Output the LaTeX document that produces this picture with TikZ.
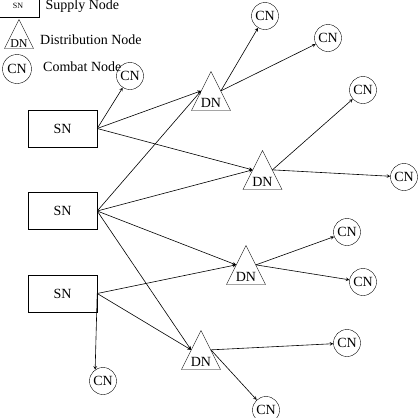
\documentclass[tikz,border=0pt]{standalone}
\usepackage{fontspec}
\setmainfont{Liberation Serif}
\usetikzlibrary{shapes.geometric}

\begin{document}
\begin{tikzpicture}[x=1pt, y=-1pt, node distance=82.5pt, font=\fontsize{14}{16}\selectfont]
    % Styles
    \tikzstyle{snbox} = [rectangle, draw, minimum width=69pt, minimum height=37pt, inner sep=0pt]
    \tikzstyle{dntri} = [isosceles triangle, isosceles triangle stretches, shape border rotate=90,
        draw, minimum width=39pt, minimum height=39pt, inner sep=0pt, anchor=apex]
    \tikzstyle{cncirc} = [circle, draw, minimum size=27pt, inner sep=0pt]
    \tikzstyle{legtext} = [anchor=base west, inner sep=0pt]
    \tikzstyle{arrow} = [->, >=stealth, line width=0.6pt]

    \useasboundingbox (0,0) rectangle (418,418);

    % Legend
    \node [rectangle, draw, minimum width=42pt, minimum height=22pt, inner sep=0pt,
        font=\fontsize{8}{10}\selectfont] (legsn) at (18,6) {SN};
    \node [legtext] (legsntext) at (45.5,9.5) {Supply Node};
    \node [dntri, minimum width=29pt, minimum height=29pt,
        font=\fontsize{12}{14}\selectfont] (legdn) at (19,19) {DN};
    \node [legtext] (legdntext) at (40,44) {Distribution Node};
    \node [cncirc, minimum size=29pt] (legcn) at (17,69) {CN};
    \node [legtext] (legcntext) at (43,71) {Combat Node};

    % Supply nodes
    \node [snbox] (sn1) at (62.5,128.5) {SN};
    \node [snbox, below of=sn1] (sn2) {SN};
    \node [snbox, below of=sn2] (sn3) {SN};

    % Distribution nodes
    \node [dntri] (dn1) at (211,71) {DN};
    \node [dntri] (dn2) at (262.5,150) {DN};
    \node [dntri] (dn3) at (246,245) {DN};
    \node [dntri] (dn4) at (201,330) {DN};

    % Combat nodes
    \node [cncirc] (cn1) at (130,76) {CN};
    \node [cncirc] (cn2) at (265,16) {CN};
    \node [cncirc] (cn3) at (328,38) {CN};
    \node [cncirc] (cn4) at (363,90) {CN};
    \node [cncirc] (cn5) at (404,177) {CN};
    \node [cncirc] (cn6) at (347,232) {CN};
    \node [cncirc] (cn7) at (363,282) {CN};
    \node [cncirc] (cn8) at (347,343) {CN};
    \node [cncirc] (cn9) at (266,410) {CN};
    \node [cncirc] (cn10) at (103,381) {CN};

    % Arrows
    \draw [arrow] (sn1.east) -- (cn1);
    \draw [arrow] (sn1.east) -- (dn1.left side);
    \draw [arrow] (sn1.east) -- (dn2.left side);
    \draw [arrow] (sn2.east) -- (dn1.left side);
    \draw [arrow] (sn2.east) -- (dn2.left side);
    \draw [arrow] (sn2.east) -- (dn3.left side);
    \draw [arrow] (sn2.east) -- (dn4.left side);
    \draw [arrow] (sn3.east) -- (dn3.left side);
    \draw [arrow] (sn3.east) -- (dn4.left side);
    \draw [arrow] (sn3.east) -- (cn10.125);
    \draw [arrow] (dn1.right side) -- (cn2);
    \draw [arrow] (dn1.right side) -- (cn3);
    \draw [arrow] (dn2.right side) -- (cn4);
    \draw [arrow] (dn2.right side) -- (cn5);
    \draw [arrow] (dn3.right side) -- (cn6);
    \draw [arrow] (dn3.right side) -- (cn7);
    \draw [arrow] (dn4.right side) -- (cn8);
    \draw [arrow] (dn4.right side) -- (cn9);
\end{tikzpicture}
\end{document}
